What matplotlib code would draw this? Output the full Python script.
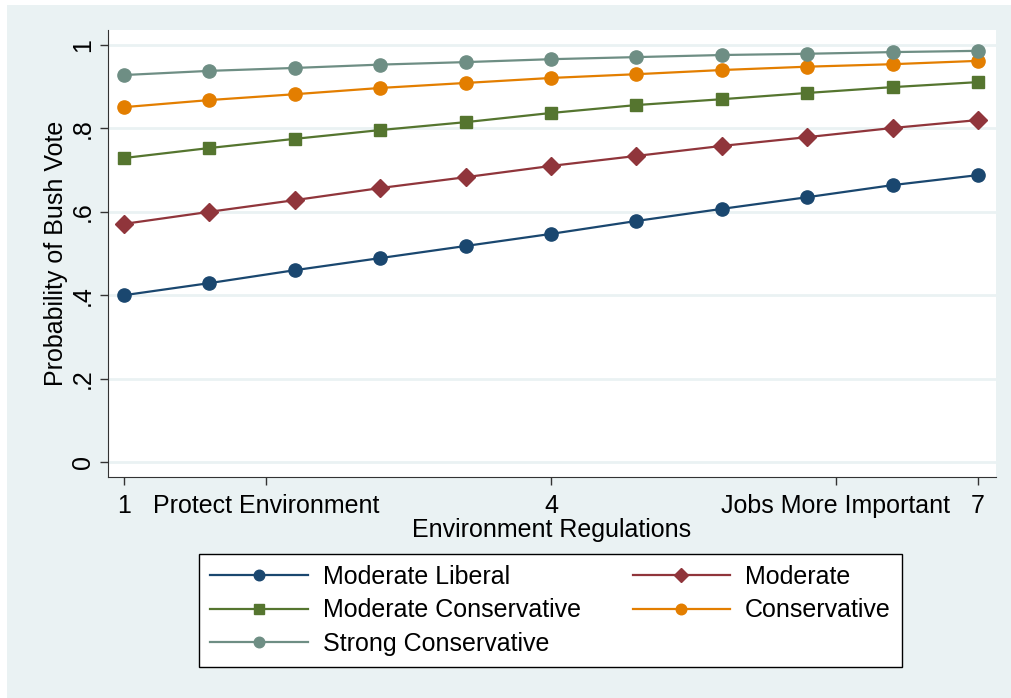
import matplotlib.pyplot as plt
from matplotlib.patches import Rectangle

plt.rcParams['font.family'] = ['Liberation Sans', 'DejaVu Sans']

# environment regulations scale (1..7)
x = [1, 1.6, 2.2, 2.8, 3.4, 4, 4.6, 5.2, 5.8, 6.4, 7]

# predicted probability of Bush vote by ideology
mod_liberal = [0.400, 0.429, 0.460, 0.489, 0.518, 0.547, 0.578, 0.607, 0.635, 0.664, 0.688]
moderate = [0.571, 0.600, 0.628, 0.657, 0.683, 0.710, 0.734, 0.758, 0.779, 0.801, 0.820]
mod_conservative = [0.729, 0.753, 0.775, 0.796, 0.815, 0.837, 0.856, 0.870, 0.885, 0.899, 0.911]
conservative = [0.851, 0.868, 0.882, 0.897, 0.909, 0.921, 0.930, 0.940, 0.948, 0.954, 0.962]
strong_conservative = [0.928, 0.938, 0.945, 0.953, 0.959, 0.966, 0.971, 0.976, 0.979, 0.983, 0.986]

xticks = [1, 2, 4, 6, 7]
xticklabels = ['1', 'Protect Environment', '4', 'Jobs More Important', '7']
yticks = [0, 0.2, 0.4, 0.6, 0.8, 1]
yticklabels = ['0', '.2', '.4', '.6', '.8', '1']

bg = '#eaf2f3'
fs = 18
fig = plt.figure(figsize=(10.11, 6.98), dpi=100)
fig.patches.append(Rectangle((7 / 1011, 0), 1, 1 - 5 / 698, transform=fig.transFigure,
                             facecolor=bg, edgecolor='none', zorder=-10))

ax = fig.add_axes([108 / 1011, 1 - 477 / 698, (996 - 108) / 1011, (477 - 30) / 698])
ax.set_facecolor('white')

series = [
    ('Moderate Liberal', mod_liberal, '#1a476f', 'o', 9.5),
    ('Moderate', moderate, '#90353b', 'D', 9.5),
    ('Moderate Conservative', mod_conservative, '#55752f', 's', 9),
    ('Conservative', conservative, '#e37e00', 'o', 9.5),
    ('Strong Conservative', strong_conservative, '#6e8e84', 'o', 9.5),
]
handles = {}
for name, vals, col, mk, ms in series:
    h, = ax.plot(x, vals, color=col, marker=mk, markersize=ms, linewidth=1.6,
                 label=name, zorder=3)
    handles[name] = h

ax.set_xlim(0.887, 7.127)
ax.set_ylim(-0.036, 1.036)
ax.set_xticks(xticks)
ax.set_xticklabels(xticklabels, fontsize=fs)
ax.set_yticks(yticks)
ax.set_yticklabels(yticklabels, fontsize=fs, rotation=90, va='center')
ax.tick_params(direction='out', length=6, width=1, color='#333333')
ax.tick_params(axis='x', pad=6)
ax.yaxis.grid(True, color=bg, linewidth=2)
ax.set_axisbelow(True)
for s in ['top', 'right']:
    ax.spines[s].set_visible(False)
for s in ['left', 'bottom']:
    ax.spines[s].set_color('#333333')

ax.set_xlabel('Environment Regulations', fontsize=fs, labelpad=0)
ax.set_ylabel('Probability of Bush Vote', fontsize=fs, labelpad=2)

order = ['Moderate Liberal', 'Moderate Conservative', 'Strong Conservative',
         'Moderate', 'Conservative']
leg = fig.legend([handles[n] for n in order], order, ncol=2, fontsize=fs,
                 loc='lower left', bbox_to_anchor=(199 / 1011, 1 - 667 / 698, 703 / 1011, 111 / 698),
                 mode='expand', borderaxespad=0, fancybox=False, edgecolor='black',
                 framealpha=1, handlelength=3.9, markerscale=0.8, labelspacing=0.38,
                 handletextpad=0.6, columnspacing=1.0, borderpad=0.45)
leg.get_frame().set_linewidth(1)

fig.savefig('out.png', dpi=100)
